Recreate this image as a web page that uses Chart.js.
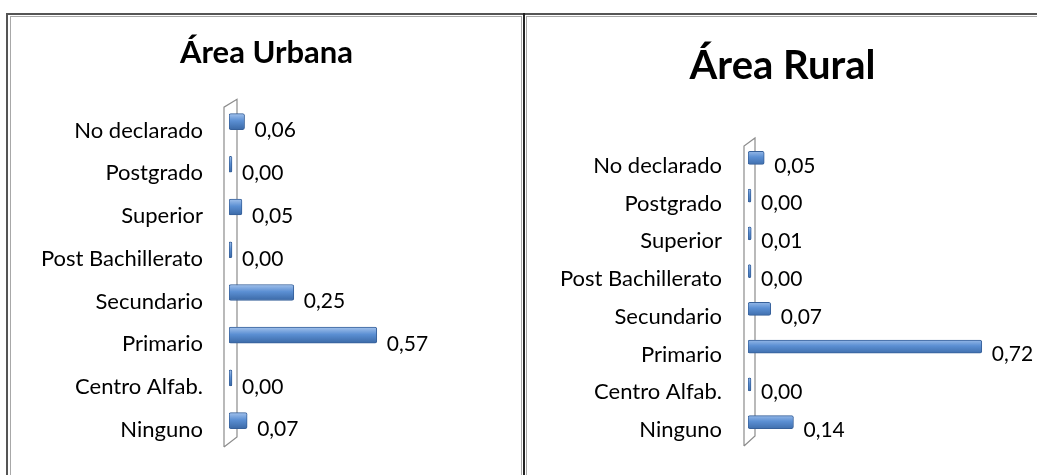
<!DOCTYPE html>
<html>
<head>
<meta charset="utf-8">
<script src="https://cdn.jsdelivr.net/npm/chart.js@4.4.0/dist/chart.umd.min.js"></script>
<style>
  body { margin: 0; width: 1037px; height: 475px; overflow: hidden; background: #fff; position: relative; }
  .line { position: absolute; }
  #frame { left: 6px; top: 13px; width: 1100px; height: 500px; border-left: 2px solid #555; border-top: 2px solid #555; }
  #cell1 { left: 10px; top: 16px; width: 510px; height: 500px; border: 1px solid #a8a8a8; }
  #sep { left: 523px; top: 13px; width: 2px; height: 500px; background: #222; }
  #cell2 { left: 526px; top: 16px; width: 600px; height: 500px; border-left: 1px solid #a8a8a8; border-top: 1px solid #a8a8a8; }
  #urbanaChart { position: absolute; left: 11px; top: 17px; }
  #ruralChart { position: absolute; left: 528px; top: 17px; }
</style>
</head>
<body>
<div class="line" id="frame"></div>
<div class="line" id="cell1"></div>
<div class="line" id="sep"></div>
<div class="line" id="cell2"></div>
<canvas id="urbanaChart" width="511" height="458"></canvas>
<canvas id="ruralChart" width="509" height="458"></canvas>
<script>
const categories = ["No declarado", "Postgrado", "Superior", "Post Bachillerato", "Secundario", "Primario", "Centro Alfab.", "Ninguno"];
const urbanaValues = [0.06, 0.00, 0.05, 0.00, 0.25, 0.57, 0.00, 0.07];
const ruralValues = [0.05, 0.00, 0.01, 0.00, 0.07, 0.72, 0.00, 0.14];

Chart.defaults.font.family = "Lato, 'Liberation Sans', sans-serif";
Chart.defaults.color = "#000";

function barFill(ctx) {
  const chart = ctx.chart;
  const y = chart.scales.y;
  if (!y || ctx.dataIndex === undefined || !chart.chartArea) return "#4f81bd";
  const c = y.getPixelForValue(ctx.dataIndex);
  const g = chart.ctx.createLinearGradient(0, c - 8, 0, c + 8);
  g.addColorStop(0, "#a3c2ec");
  g.addColorStop(0.45, "#5b8fd3");
  g.addColorStop(1, "#3b69a6");
  return g;
}

// the grey 3d wall behind the bars
const wallPlugin = {
  id: "wall",
  beforeDatasetsDraw(chart, args, opts) {
    const a = chart.chartArea;
    const ctx = chart.ctx;
    const fx = a.left + opts.front, bx = a.left + opts.back;
    ctx.save();
    ctx.strokeStyle = "#8c8c8c";
    ctx.lineWidth = 1.2;
    ctx.beginPath();
    ctx.moveTo(fx, a.bottom + 5);
    ctx.lineTo(fx, a.top + 7);
    ctx.lineTo(bx, a.top - 1);
    ctx.lineTo(bx, a.bottom - 5);
    ctx.lineTo(fx, a.bottom + 5);
    ctx.stroke();
    ctx.restore();
  }
};

const valueLabels = {
  id: "valueLabels",
  afterDatasetsDraw(chart, args, opts) {
    const ctx = chart.ctx;
    const meta = chart.getDatasetMeta(0);
    ctx.save();
    ctx.font = "21px Lato";
    ctx.fillStyle = "#000";
    ctx.textBaseline = "middle";
    ctx.textAlign = "left";
    meta.data.forEach((bar, i) => {
      const v = chart.data.datasets[0].data[i];
      ctx.fillText(v.toFixed(2).replace(".", ","), bar.x + 10, bar.y + opts.shift);
    });
    ctx.restore();
  }
};

function makeChart(id, values, o) {
  return new Chart(document.getElementById(id), {
    type: "bar",
    data: {
      labels: categories,
      datasets: [{
        data: values,
        backgroundColor: barFill,
        borderColor: "#36609a",
        borderWidth: 1,
        borderRadius: 2,
        borderSkipped: false,
        barThickness: o.thick,
        minBarLength: 3
      }]
    },
    options: {
      indexAxis: "y",
      responsive: false,
      animation: false,
      layout: { padding: { left: 0, right: 0, top: 0, bottom: o.padBottom } },
      plugins: {
        legend: { display: false },
        tooltip: { enabled: false },
        title: {
          display: true,
          text: o.title,
          font: { size: o.titleSize, weight: "bold" },
          color: "#000",
          lineHeight: 1.2,
          padding: { top: o.titleTop, bottom: o.titleBottom }
        },
        wall: { front: o.front, back: o.back },
        valueLabels: { shift: o.shift }
      },
      scales: {
        x: { display: false, min: 0, max: o.xMax },
        y: {
          afterFit: (s) => { s.width = o.axisWidth; s.paddingTop = 0; s.paddingBottom = 0; },
          grid: { display: false, drawTicks: false },
          border: { display: false },
          ticks: { font: { size: 22 }, color: "#000", padding: 26, labelOffset: o.shift }
        }
      }
    },
    plugins: [wallPlugin, valueLabels]
  });
}

makeChart("urbanaChart", urbanaValues, {
  title: "Área Urbana", titleSize: 31, titleTop: 17, titleBottom: 29,
  axisWidth: 218, padBottom: 33, xMax: 1.13,
  thick: 16, shift: 9, front: -5, back: 8
});

makeChart("ruralChart", ruralValues, {
  title: "Área Rural", titleSize: 40, titleTop: 25, titleBottom: 49,
  axisWidth: 220, padBottom: 34, xMax: 0.89,
  thick: 13, shift: 8, front: -4, back: 7
});
</script>
</body>
</html>
